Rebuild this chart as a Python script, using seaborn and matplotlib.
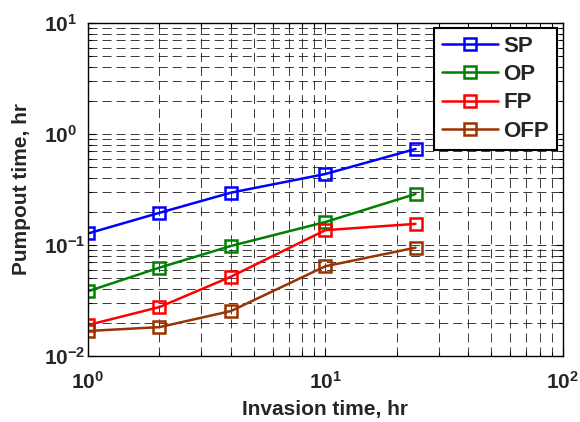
import numpy as np
import pandas as pd
import matplotlib
matplotlib.use("Agg")
import matplotlib.pyplot as plt
import seaborn as sns
from matplotlib.ticker import LogLocator, FuncFormatter, NullFormatter

invasion_time = [1, 2, 4, 10, 24]
sp = [0.127, 0.195, 0.296, 0.436, 0.733]
op = [0.0383, 0.0625, 0.098, 0.161, 0.288]
fp = [0.019, 0.0276, 0.0518, 0.136, 0.155]
ofp = [0.0168, 0.0182, 0.0254, 0.0643, 0.0946]
series_names = ["SP", "OP", "FP", "OFP"]
series_values = [sp, op, fp, ofp]
series_colors = ["#0000ff", "#008000", "#ff0000", "#993300"]

sns.set_theme(style="ticks")
plt.rcParams.update({
    "font.family": ["Liberation Sans", "DejaVu Sans"],
    "font.weight": "bold",
    "axes.labelweight": "bold",
    "mathtext.fontset": "custom",
    "mathtext.rm": "Liberation Sans:bold",
    "mathtext.bf": "Liberation Sans:bold",
    "mathtext.default": "bf",
    "lines.scale_dashes": False,
    "axes.edgecolor": "black",
    "axes.linewidth": 1.0,
})

fig = plt.figure(figsize=(5.8, 4.22), dpi=100)
ax = fig.add_axes([0.1517, 0.1564, 0.8183, 0.7891])
ax.set_xscale("log")
ax.set_yscale("log")

for name, vals, c in zip(series_names, series_values, series_colors):
    sns.lineplot(x=invasion_time, y=vals, color=c, marker="s", markersize=8.5,
                 markerfacecolor="none", markeredgecolor=c, markeredgewidth=1.8,
                 linewidth=1.8, label=name, ax=ax)

ax.set_xlim(1, 100)
ax.set_ylim(0.01, 10)

fmt = FuncFormatter(lambda v, p: r"$\mathbf{10^{%d}}$" % int(round(np.log10(v))))
for axis in (ax.xaxis, ax.yaxis):
    axis.set_major_locator(LogLocator(base=10, numticks=10))
    axis.set_minor_locator(LogLocator(base=10, subs=np.arange(2, 10), numticks=20))
    axis.set_major_formatter(fmt)
    axis.set_minor_formatter(NullFormatter())

ax.grid(True, which="both", color="0.1", linestyle=(0, (6.5, 3.6)), linewidth=0.6)
ax.tick_params(which="both", direction="in", top=True, right=True, color="black", width=0.8)
ax.tick_params(which="major", length=5, labelsize=15)
ax.tick_params(axis="y", which="major", pad=32)
ax.tick_params(axis="x", which="major", pad=11)
ax.tick_params(which="minor", length=3)
for lab in ax.get_yticklabels():
    lab.set_horizontalalignment("left")

ax.set_xlabel("Invasion time, hr", fontsize=15, fontweight="bold")
ax.set_ylabel("Pumpout time, hr", fontsize=15, fontweight="bold")
ax.xaxis.set_label_coords(0.5, -0.133)
ax.yaxis.set_label_coords(-0.12, 0.5)

leg = ax.legend(loc="upper right", bbox_to_anchor=(0.988, 0.985), borderaxespad=0,
                fancybox=False, framealpha=1, edgecolor="black",
                prop={"size": 16, "weight": "bold"}, handlelength=2.5,
                labelspacing=0.33, handletextpad=0.25, borderpad=0.35)
leg.get_frame().set_linewidth(1.5)

fig.savefig("out.png", dpi=100)
